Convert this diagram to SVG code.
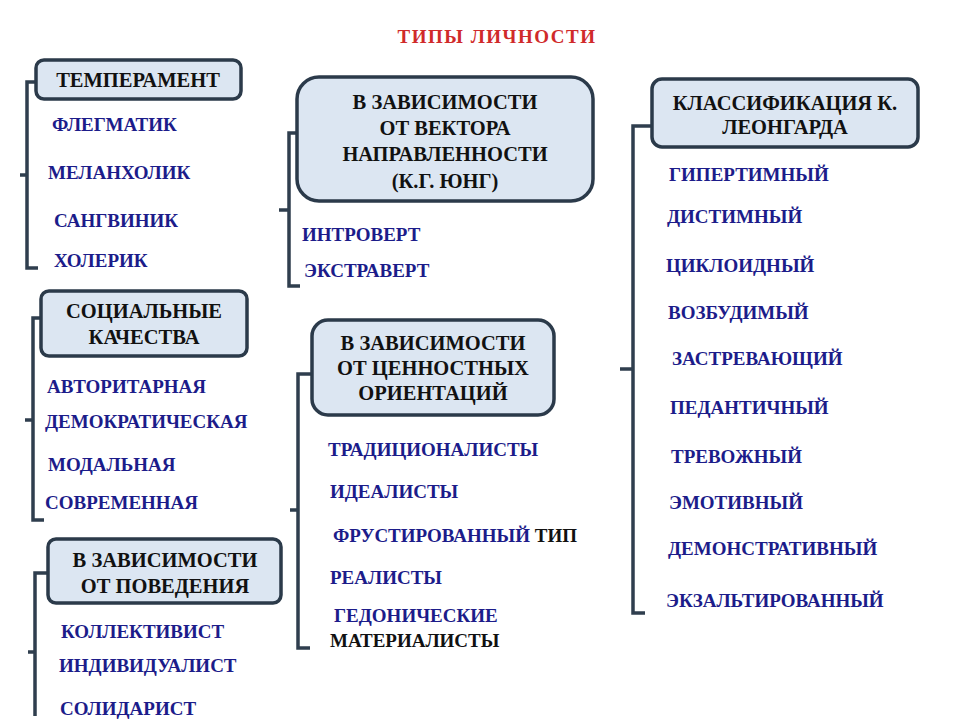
<svg xmlns="http://www.w3.org/2000/svg" width="960" height="720" viewBox="0 0 960 720">
<style>
.box{fill:#dce6f2;stroke:#2b3a4a;stroke-width:3.5}
.br{fill:none;stroke:#2f3e4e;stroke-width:3.5}
text{font-family:"Liberation Serif",serif;font-weight:bold;font-size:19px}
.h{fill:#111;font-size:20.5px;text-anchor:middle}
.i{fill:#1c1c8a}
.k{fill:#111}
</style>
<rect width="960" height="720" fill="#fff"/>
<text x="497" y="43" fill="#d02a2a" font-size="22" letter-spacing="1.5" text-anchor="middle">ТИПЫ ЛИЧНОСТИ</text>
<g id="connectors">
<path class="br" d="M36 82H27V268H38M27 175H20"/>
<path class="br" d="M297 133H289V286H300M289 210H279"/>
<path class="br" d="M41 318H33V520H44M33 420H25"/>
<path class="br" d="M312 374H298V648H310M298 510H290"/>
<path class="br" d="M48 573H35V716M35 652H28"/>
<path class="br" d="M652 126H633V613H645M633 369H620"/>
</g>
<g id="n-temperament"><rect class="box" x="36" y="60" width="205" height="39" rx="8"/><text class="h" x="138" y="87">ТЕМПЕРАМЕНТ</text></g>
<g id="n-temperament-items">
<text class="i" x="52" y="131">ФЛЕГМАТИК</text>
<text class="i" x="48" y="179">МЕЛАНХОЛИК</text>
<text class="i" x="54" y="227">САНГВИНИК</text>
<text class="i" x="54" y="267">ХОЛЕРИК</text>
</g>
<g id="n-jung"><rect class="box" x="297" y="77" width="296" height="124" rx="22"/>
<text class="h" x="445" y="109">В ЗАВИСИМОСТИ</text><text class="h" x="445" y="135">ОТ ВЕКТОРА</text><text class="h" x="445" y="161">НАПРАВЛЕННОСТИ</text><text class="h" x="445" y="188">(К.Г. ЮНГ)</text></g>
<g id="n-jung-items">
<text class="i" x="302" y="241">ИНТРОВЕРТ</text>
<text class="i" x="304" y="277">ЭКСТРАВЕРТ</text>
</g>
<g id="n-leonhard"><rect class="box" x="652" y="79" width="266" height="68" rx="10"/>
<text class="h" x="785" y="110">КЛАССИФИКАЦИЯ К.</text><text class="h" x="785" y="134">ЛЕОНГАРДА</text></g>
<g id="n-leonhard-items">
<text class="i" x="669" y="181">ГИПЕРТИМНЫЙ</text>
<text class="i" x="667" y="223">ДИСТИМНЫЙ</text>
<text class="i" x="666" y="272">ЦИКЛОИДНЫЙ</text>
<text class="i" x="668" y="319">ВОЗБУДИМЫЙ</text>
<text class="i" x="672" y="365">ЗАСТРЕВАЮЩИЙ</text>
<text class="i" x="670" y="414">ПЕДАНТИЧНЫЙ</text>
<text class="i" x="671" y="463">ТРЕВОЖНЫЙ</text>
<text class="i" x="669" y="509">ЭМОТИВНЫЙ</text>
<text class="i" x="668" y="555">ДЕМОНСТРАТИВНЫЙ</text>
<text class="i" x="666" y="607">ЭКЗАЛЬТИРОВАННЫЙ</text>
</g>
<g id="n-social"><rect class="box" x="41" y="291" width="206" height="65" rx="8"/>
<text class="h" x="144" y="318">СОЦИАЛЬНЫЕ</text><text class="h" x="144" y="344">КАЧЕСТВА</text></g>
<g id="n-social-items">
<text class="i" x="47" y="393">АВТОРИТАРНАЯ</text>
<text class="i" x="45" y="428">ДЕМОКРАТИЧЕСКАЯ</text>
<text class="i" x="48" y="471">МОДАЛЬНАЯ</text>
<text class="i" x="45" y="509">СОВРЕМЕННАЯ</text>
</g>
<g id="n-values"><rect class="box" x="312" y="320" width="242" height="95" rx="16"/>
<text class="h" x="433" y="350">В ЗАВИСИМОСТИ</text><text class="h" x="433" y="375">ОТ ЦЕННОСТНЫХ</text><text class="h" x="433" y="400">ОРИЕНТАЦИЙ</text></g>
<g id="n-values-items">
<text class="i" x="328" y="456">ТРАДИЦИОНАЛИСТЫ</text>
<text class="i" x="330" y="498">ИДЕАЛИСТЫ</text>
<text class="i" x="333" y="542">ФРУСТИРОВАННЫЙ <tspan fill="#111">ТИП</tspan></text>
<text class="i" x="330" y="584">РЕАЛИСТЫ</text>
<text class="i" x="334" y="622">ГЕДОНИЧЕСКИЕ</text>
<text class="k" x="330" y="647">МАТЕРИАЛИСТЫ</text>
</g>
<g id="n-behaviour"><rect class="box" x="48" y="539" width="233" height="64" rx="8"/>
<text class="h" x="165" y="567">В ЗАВИСИМОСТИ</text><text class="h" x="165" y="593">ОТ ПОВЕДЕНИЯ</text></g>
<g id="n-behaviour-items">
<text class="i" x="61" y="638">КОЛЛЕКТИВИСТ</text>
<text class="i" x="59" y="672">ИНДИВИДУАЛИСТ</text>
<text class="i" x="60" y="715">СОЛИДАРИСТ</text>
</g>
</svg>
